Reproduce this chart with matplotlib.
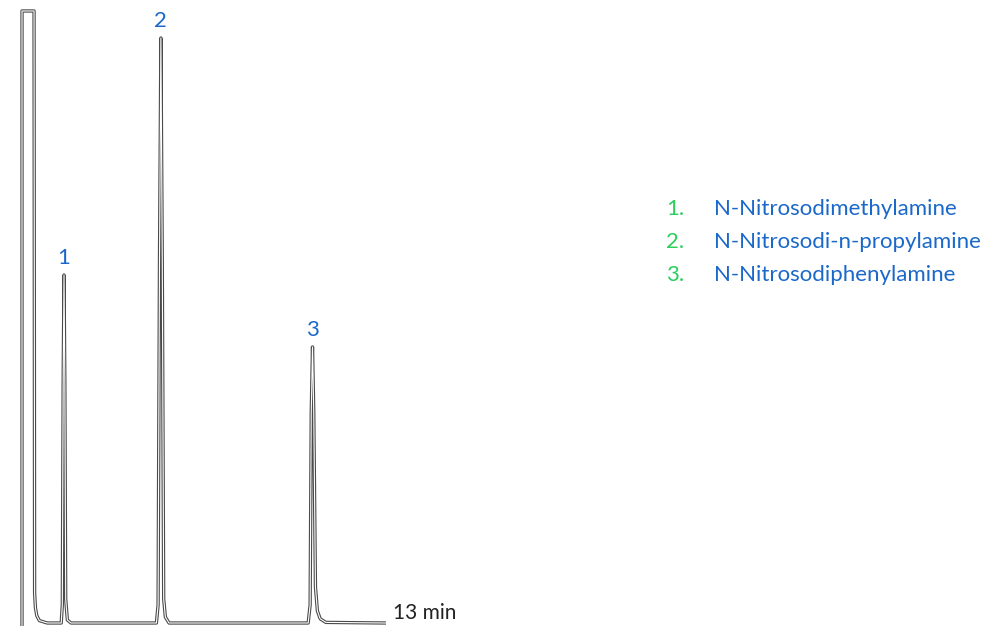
import matplotlib
matplotlib.use('Agg')
import matplotlib.pyplot as plt

# chromatogram trace (time in min, signal in arbitrary units)
time_min = [0.0, 0.0, 0.43, 0.45, 0.48, 0.53, 0.62, 0.9,
            1.40, 1.44, 1.47, 1.50, 1.53, 1.56, 1.62, 1.75,
            4.80, 4.86, 4.91, 4.96, 5.01, 5.06, 5.12, 5.25,
            10.22, 10.29, 10.33, 10.375, 10.42, 10.48, 10.55, 10.65, 10.85, 13.0]
signal = [-0.5, 102.0, 102.0, 5.0, 2.5, 1.2, 0.4, 0.0,
          0.0, 3.0, 40.0, 58.0, 40.0, 4.0, 0.5, 0.0,
          0.0, 3.0, 60.0, 97.5, 60.0, 4.0, 1.0, 0.0,
          0.0, 3.0, 35.0, 46.0, 35.0, 6.0, 2.0, 0.7, 0.1, 0.0]

peak_ids = ['1', '2', '3']
peak_times = [1.50, 4.96, 10.375]
peak_heights = [58.0, 97.5, 46.0]
compounds = ['N-Nitrosodimethylamine', 'N-Nitrosodi-n-propylamine', 'N-Nitrosodiphenylamine']
end_label = '13 min'

BLUE = '#1a68c9'
GREEN = '#2bcf5c'
TRACE = '#4a4a4a'

plt.rcParams['font.family'] = ['Lato', 'DejaVu Sans']

fig = plt.figure(figsize=(9.88, 6.27), dpi=100)
ax = fig.add_axes([0, 0, 1, 1])
ax.set_xlim(-0.786, 34.5)
ax.set_ylim(-0.667, 103.83)
ax.axis('off')

# outlined trace: dark stroke with a thin white core
ax.plot(time_min, signal, color=TRACE, lw=2.4, solid_joinstyle='round', solid_capstyle='butt')
ax.plot(time_min, signal, color='white', lw=0.8, solid_joinstyle='round', solid_capstyle='butt')

for pid, t, h in zip(peak_ids, peak_times, peak_heights):
    ax.annotate(pid, (t, h), xytext=(0, 5), textcoords='offset points',
                ha='center', va='bottom', color=BLUE, fontsize=16)

ax.annotate(end_label, (time_min[-1], signal[-1]), xytext=(5, 0), textcoords='offset points',
            ha='left', va='bottom', color='#222222', fontsize=15)

# compound legend
for i, name in enumerate(compounds):
    y = 0.667 - i * 0.0527
    fig.text(0.674, y, f'{i + 1}.', color=GREEN, fontsize=16, va='center', ha='left')
    fig.text(0.7225, y, name, color=BLUE, fontsize=16, va='center', ha='left')

fig.savefig('out.png', dpi=100)
